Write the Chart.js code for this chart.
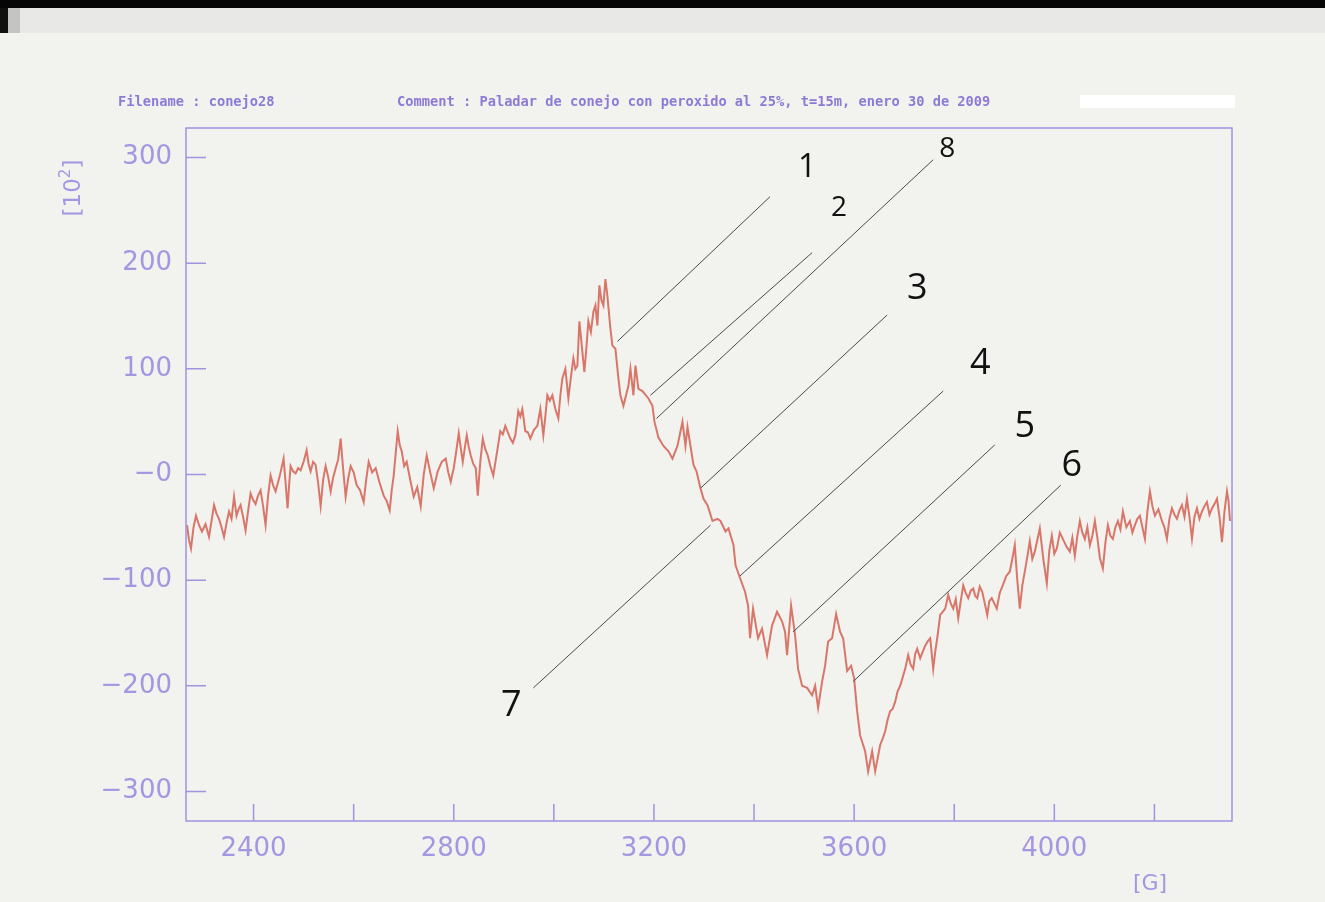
<!DOCTYPE html>
<html>
<head>
<meta charset="utf-8">
<title>conejo28</title>
<script src="https://cdn.jsdelivr.net/npm/chart.js@4"></script>
<style>
  html, body { margin: 0; padding: 0; background: #f2f2ef; }
  #wrap { position: relative; width: 1325px; height: 902px; overflow: hidden; }
  #topbar { position: absolute; left: 0; top: 0; width: 1325px; height: 8px; background: #060606; }
  #band { position: absolute; left: 0; top: 8px; width: 1325px; height: 25px; background: #e8e8e6; }
  #edge1 { position: absolute; left: 0; top: 8px; width: 8px; height: 25px; background: #111; }
  #edge2 { position: absolute; left: 8px; top: 8px; width: 12px; height: 25px; background: #c4c4c2; }
  #blank { position: absolute; left: 1080px; top: 95px; width: 155px; height: 13px; background: #fff; }
  canvas { position: absolute; left: 0; top: 0; }
</style>
</head>
<body>
<div id="wrap">
  <div id="topbar"></div>
  <div id="band"></div>
  <div id="edge1"></div>
  <div id="edge2"></div>
  <div id="blank"></div>
  <canvas id="epr" width="1325" height="902"></canvas>
</div>
<script>
// field [G] and signal [10^2] (rows line up between the two arrays)
const fieldG = [
  2267, 2271, 2275, 2280, 2285, 2291, 2297, 2304, 2311, 2316,
  2321, 2326, 2331, 2336, 2341, 2346, 2351, 2356, 2361, 2366,
  2370, 2374, 2379, 2384, 2389, 2394, 2399, 2404, 2409, 2414,
  2419, 2424, 2429, 2434, 2439, 2444, 2452, 2460, 2464, 2468,
  2471, 2474, 2479, 2484, 2489, 2494, 2500, 2506, 2510, 2514,
  2519, 2524, 2529, 2534, 2539, 2544, 2549, 2554, 2559, 2564,
  2569, 2574, 2579, 2584, 2589, 2594, 2600, 2606, 2613, 2620,
  2625, 2630, 2637, 2644, 2652, 2660, 2666, 2672, 2676, 2680,
  2684, 2688, 2692, 2696, 2701, 2706, 2713, 2720, 2727, 2734,
  2740, 2746, 2753, 2760, 2768, 2776,
  2784, 2789, 2794, 2797, 2800, 2805, 2810, 2814, 2818, 2822,
  2826, 2830, 2834, 2839, 2844, 2848, 2853, 2858, 2863, 2868,
  2873, 2879, 2886, 2893, 2898, 2903, 2908, 2913, 2918, 2923,
  2929, 2933, 2937, 2943, 2948, 2953, 2960, 2967, 2973, 2979,
  2983, 2987, 2992, 2997, 3003, 3009, 3013, 3017, 3023, 3029,
  3034, 3039, 3043, 3047, 3051, 3057, 3061, 3065, 3069, 3074,
  3079, 3083, 3087, 3091, 3095, 3099, 3103, 3107,
  3113, 3117, 3123, 3129, 3133, 3139, 3149, 3153, 3159, 3163,
  3169, 3177, 3189, 3197, 3201, 3209, 3219, 3229, 3237, 3247,
  3257, 3263, 3267, 3273, 3279, 3285, 3293, 3299, 3307, 3317,
  3327, 3333, 3343, 3349, 3359, 3363, 3372, 3382, 3388, 3392,
  3398, 3408, 3416, 3426, 3436, 3446, 3456, 3462, 3466, 3474,
  3482, 3488, 3496, 3506, 3516, 3522, 3528, 3536, 3542, 3548,
  3556, 3564, 3572, 3578, 3586, 3594, 3600, 3606, 3612, 3622,
  3628, 3636, 3642,
  3652, 3657, 3662, 3667, 3672, 3677, 3682, 3687, 3692, 3697,
  3702, 3708, 3713, 3718, 3722, 3726, 3732, 3737, 3742, 3747,
  3752, 3758, 3762, 3766, 3772, 3777, 3782, 3788, 3793, 3798,
  3803, 3808, 3813, 3818, 3823, 3828, 3833, 3838, 3842, 3846,
  3851, 3856, 3861, 3866, 3870, 3875, 3880, 3885, 3891,
  3897, 3904, 3911, 3916, 3921, 3926, 3931, 3936, 3941, 3946,
  3951, 3956, 3961, 3966, 3971, 3978, 3985, 3990, 3995, 4000,
  4005, 4011, 4017, 4024, 4031, 4036, 4041, 4046, 4051, 4056,
  4061, 4066, 4071, 4076, 4081, 4086, 4091, 4097, 4102, 4107,
  4112, 4117, 4122, 4127, 4132, 4137, 4144, 4151, 4156, 4161,
  4166, 4171, 4176, 4181, 4186, 4191, 4196, 4201, 4208, 4215,
  4220, 4225, 4230, 4235, 4240, 4245, 4250, 4255, 4260, 4265,
  4270, 4275, 4280, 4285, 4290, 4295, 4300, 4305, 4310, 4315,
  4320, 4325, 4330, 4335, 4340, 4345, 4348, 4351
];
const signal = [
  -48, -62, -70, -50, -39, -48, -54, -47, -59, -44,
  -29, -37, -42, -50, -59, -46, -35, -42, -21, -39,
  -33, -29, -40, -53, -35, -18, -24, -28, -20, -15,
  -30, -48, -20, -1, -10, -16, -2, 15, -8, -32,
  -10, 8, 3, 1, 6, 4, 12, 23, 10, 3,
  12, 9, -8, -30, -5, 8, -2, -16, -3, 6,
  14, 34, 5, -21, -4, 8, 2, -10, -15, -26,
  -5, 12, 2, 6, -8, -20, -25, -34, -15, -1,
  20, 41, 28, 22, 8, 12, -5, -21, -12, -30,
  0, 18, 2, -13, 3, 12,
  15, 2, -7, 0, 6, 22, 39, 25, 12, 25,
  37, 26, 18, 10, 6, -20, 12, 34, 24, 18,
  8, -1, 20, 41, 38, 46, 40, 34, 30, 37,
  60, 55, 62, 41, 40, 34, 42, 46, 62, 37,
  55, 75, 70, 75, 62, 53, 75, 91, 100, 72,
  92, 110, 100, 103, 145, 116, 97, 120, 145, 135,
  154, 160, 141, 179, 165, 160, 185, 169,
  138, 122, 119, 91, 75, 65, 84, 100, 75, 103,
  81, 79, 72, 65, 50, 35, 27, 22, 15, 27,
  50, 27, 45, 27, 9, 3, -13, -23, -29, -44,
  -42, -44, -54, -51, -67, -86, -98, -111, -124, -155,
  -127, -155, -146, -171, -143, -130, -139, -149, -171, -124,
  -152, -184, -200, -202, -209, -200, -221, -196, -181, -158,
  -155, -132, -149, -155, -186, -181, -193, -224, -247, -262,
  -281, -262, -281,
  -256, -250, -243, -232, -224, -222, -215, -205, -200, -192,
  -184, -171, -180, -184, -170, -165, -174, -168, -162, -158,
  -155, -184, -168, -155, -133, -130, -127, -114, -122, -127,
  -118, -136, -120, -105, -112, -117, -110, -108, -115, -117,
  -106, -111, -122, -133, -120, -117, -122, -127, -112,
  -105, -96, -92, -80, -67, -100, -127, -105, -92, -78,
  -63, -80, -73, -62, -51, -80, -103, -72, -58, -75,
  -70, -55, -61, -68, -73, -60, -77, -58, -44, -55,
  -61, -50, -67, -58, -44, -60, -79, -89, -65, -48,
  -58, -61, -50, -44, -52, -35, -50, -44, -55, -48,
  -42, -39, -50, -61, -35, -16, -30, -39, -33, -44,
  -50, -61, -42, -32, -38, -42, -34, -29, -40, -23,
  -40, -61, -40, -32, -42, -35, -30, -26, -38, -32,
  -28, -23, -40, -64, -35, -16, -25, -44
];

const yTickValues = [-300, -200, -100, 0, 100, 200, 300];
const xTickValues = [2400, 2600, 2800, 3000, 3200, 3400, 3600, 3800, 4000, 4200];
const xLabelValues = [2400, 2800, 3200, 3600, 4000];

// numbered marks: label, point on the curve, outer end of the leader, label centre
const markLabels = ['1', '2', '8', '3', '4', '5', '6', '7'];
const markCurveG = [3127, 3193, 3205, 3293, 3372, 3478, 3598, 3313];
const markCurveV = [126, 75, 53, -13, -96, -149, -196, -48];
const markEndG = [3432, 3516, 3758, 3666, 3778, 3881, 4013, 2959];
const markEndV = [263, 210, 298, 151, 79, 28, -10, -202];
const markTextG = [3506, 3570, 3786, 3726, 3852, 3941, 4035, 2915];
const markTextV = [290, 252, 308, 176, 105, 45, 8, -219];

const axisColor = '#a093df';
const textColor = '#a596e2';

const extras = {
  id: 'extras',
  afterDraw(chart) {
    const { ctx, chartArea: a, scales: { x, y } } = chart;
    ctx.save();

    // frame and inward ticks
    ctx.strokeStyle = axisColor;
    ctx.lineWidth = 1.5;
    ctx.strokeRect(a.left, a.top, a.right - a.left, a.bottom - a.top);
    ctx.beginPath();
    yTickValues.forEach(v => {
      const py = y.getPixelForValue(v);
      ctx.moveTo(a.left, py);
      ctx.lineTo(a.left + 20, py);
    });
    xTickValues.forEach(v => {
      const px = x.getPixelForValue(v);
      ctx.moveTo(px, a.bottom);
      ctx.lineTo(px, a.bottom - 17);
    });
    ctx.stroke();

    // header
    ctx.fillStyle = '#8c7bd6';
    ctx.font = 'bold 13.7px "DejaVu Sans Mono"';
    ctx.textBaseline = 'alphabetic';
    ctx.textAlign = 'left';
    ctx.fillText('Filename : conejo28', 118, 106);
    ctx.fillText('Comment : Paladar de conejo con peroxido al 25%, t=15m, enero 30 de 2009', 397, 106);

    // axis titles
    ctx.fillStyle = textColor;
    ctx.font = '22px "DejaVu Sans"';
    ctx.textAlign = 'center';
    ctx.textBaseline = 'middle';
    ctx.fillText('[G]', 1150, 884);

    ctx.translate(80, 188);
    ctx.rotate(-Math.PI / 2);
    ctx.textAlign = 'left';
    ctx.textBaseline = 'alphabetic';
    const big = '23px "DejaVu Sans"', small = '15px "DejaVu Sans"';
    ctx.font = big;
    const w1 = ctx.measureText('[10').width, w3 = ctx.measureText(']').width;
    ctx.font = small;
    const w2 = ctx.measureText('2').width;
    let cx = -(w1 + w2 + w3) / 2;
    ctx.font = big; ctx.fillText('[10', cx, 0); cx += w1;
    ctx.font = small; ctx.fillText('2', cx, -10); cx += w2;
    ctx.font = big; ctx.fillText(']', cx, 0);
    ctx.setTransform(1, 0, 0, 1, 0, 0);

    // numbered leaders
    ctx.strokeStyle = '#4a4a4a';
    ctx.lineWidth = 1;
    ctx.fillStyle = '#111';
    ctx.textAlign = 'center';
    ctx.textBaseline = 'middle';
    markLabels.forEach((lab, i) => {
      ctx.beginPath();
      ctx.moveTo(x.getPixelForValue(markCurveG[i]), y.getPixelForValue(markCurveV[i]));
      ctx.lineTo(x.getPixelForValue(markEndG[i]), y.getPixelForValue(markEndV[i]));
      ctx.stroke();
      const size = (lab === '2' || lab === '8') ? 28 : (lab === '1' ? 32 : 36);
      ctx.font = size + 'px "Open Sans"';
      ctx.fillText(lab, x.getPixelForValue(markTextG[i]), y.getPixelForValue(markTextV[i]));
    });
    ctx.restore();
  }
};

new Chart(document.getElementById('epr'), {
  type: 'line',
  data: {
    datasets: [{
      data: fieldG.map((g, i) => ({ x: g, y: signal[i] })),
      borderColor: '#d9766a',
      borderWidth: 2,
      pointRadius: 0,
      tension: 0,
      fill: false
    }]
  },
  options: {
    responsive: false,
    animation: false,
    layout: { padding: { left: 0, right: 93, top: 128, bottom: 0 } },
    plugins: { legend: { display: false }, tooltip: { enabled: false } },
    scales: {
      x: {
        type: 'linear',
        min: 2265,
        max: 4355,
        afterFit: s => { s.height = 81; },
        afterBuildTicks: s => { s.ticks = xTickValues.map(v => ({ value: v })); },
        grid: { display: false, drawTicks: false },
        border: { display: false },
        ticks: {
          autoSkip: false,
          maxRotation: 0,
          padding: 13,
          color: textColor,
          font: { family: 'DejaVu Sans', size: 26 },
          callback: v => xLabelValues.includes(v) ? String(v) : ''
        }
      },
      y: {
        min: -328,
        max: 328,
        afterFit: s => { s.width = 186; },
        afterBuildTicks: s => { s.ticks = yTickValues.map(v => ({ value: v })); },
        grid: { display: false, drawTicks: false },
        border: { display: false },
        ticks: {
          padding: 14,
          color: textColor,
          font: { family: 'DejaVu Sans', size: 26 },
          callback: v => v === 0 ? '\u22120' : (v < 0 ? '\u2212' + Math.abs(v) : String(v))
        }
      }
    }
  },
  plugins: [extras]
});
</script>
</body>
</html>
